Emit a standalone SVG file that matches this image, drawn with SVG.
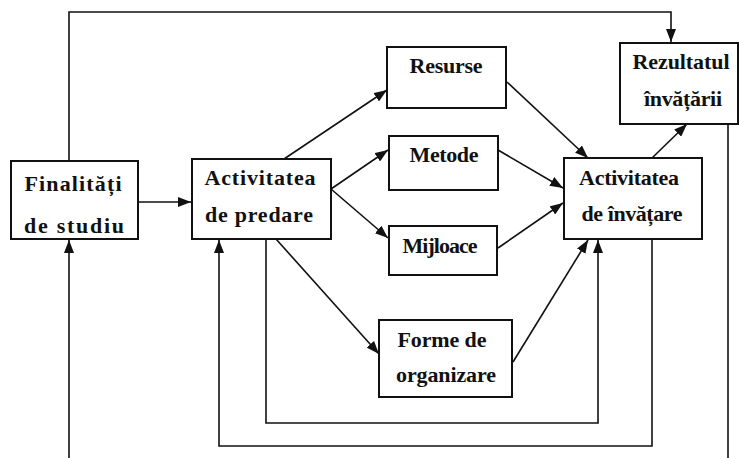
<svg xmlns="http://www.w3.org/2000/svg" width="739" height="458" viewBox="0 0 739 458">
  <defs>
    <marker id="arrow" markerUnits="userSpaceOnUse" markerWidth="13" markerHeight="10" viewBox="0 0 13 10" refX="13" refY="5" orient="auto">
      <path d="M0,0 L13,5 L0,10 Z" fill="#111"/>
    </marker>
    <style>
      .box { fill: #fff; stroke: #111; stroke-width: 2; }
      .lbl { font-family: "Liberation Serif", "Times New Roman", serif; font-weight: bold; font-size: 22px; fill: #111; text-anchor: middle; }
      .edge { fill: none; stroke: #111; stroke-width: 1.6; }
      .arr { marker-end: url(#arrow); }
    </style>
  </defs>
  <rect width="739" height="458" fill="#fff"/>

  <!-- connectors -->
  <g id="connectors">
    <!-- feedback from goals to learning outcome -->
    <path class="edge arr" d="M69,161 V12 H671 V42"/>
    <!-- outcome feeds back to goals (bottom rails) -->
    <path class="edge" d="M728,124 V458"/>
    <path class="edge arr" d="M69,458 V240"/>
    <!-- goals -> teaching -->
    <path class="edge arr" d="M138,202 H191"/>
    <!-- teaching -> means -->
    <path class="edge arr" d="M284,159 L387,90"/>
    <path class="edge arr" d="M331,189 L388,150"/>
    <path class="edge arr" d="M331,189 L388,238"/>
    <path class="edge arr" d="M276,239 L379,354"/>
    <!-- means -> learning -->
    <path class="edge arr" d="M507,82 L588,158"/>
    <path class="edge arr" d="M498,150 L563,188"/>
    <path class="edge arr" d="M498,248 L563,203"/>
    <path class="edge arr" d="M513,362 L588,240"/>
    <!-- learning -> outcome -->
    <path class="edge arr" d="M652,158 L687,124"/>
    <!-- loops between teaching and learning -->
    <path class="edge arr" d="M266,239 V423 H598 V240"/>
    <path class="edge arr" d="M652,239 V446 H219 V240"/>
  </g>

  <g id="finalitati">
    <rect class="box" x="11" y="161" width="127" height="78"/>
    <text class="lbl" x="73" y="191" textLength="97" lengthAdjust="spacing">Finalități</text>
    <text class="lbl" x="74" y="233" textLength="100" lengthAdjust="spacing">de studiu</text>
  </g>

  <g id="predare">
    <rect class="box" x="192" y="159" width="139" height="80"/>
    <text class="lbl" x="260" y="185" textLength="111" lengthAdjust="spacing">Activitatea</text>
    <text class="lbl" x="259" y="222" textLength="108" lengthAdjust="spacing">de predare</text>
  </g>

  <g id="resurse">
    <rect class="box" x="387" y="47" width="119" height="61"/>
    <text class="lbl" x="446" y="73" textLength="73" lengthAdjust="spacing">Resurse</text>
  </g>

  <g id="metode">
    <rect class="box" x="389" y="136" width="109" height="54"/>
    <text class="lbl" x="444" y="162" textLength="69" lengthAdjust="spacing">Metode</text>
  </g>

  <g id="mijloace">
    <rect class="box" x="389" y="226" width="108" height="49"/>
    <text class="lbl" x="440" y="253" textLength="75" lengthAdjust="spacing">Mijloace</text>
  </g>

  <g id="forme">
    <rect class="box" x="379" y="320" width="133" height="77"/>
    <text class="lbl" x="442" y="347" textLength="89" lengthAdjust="spacing">Forme de</text>
    <text class="lbl" x="446" y="382" textLength="100" lengthAdjust="spacing">organizare</text>
  </g>

  <g id="invatare">
    <rect class="box" x="564" y="158" width="138" height="81"/>
    <text class="lbl" x="629" y="185" textLength="100" lengthAdjust="spacing">Activitatea</text>
    <text class="lbl" x="632" y="221" textLength="101" lengthAdjust="spacing">de învățare</text>
  </g>

  <g id="rezultatul">
    <rect class="box" x="620" y="43" width="118" height="81"/>
    <text class="lbl" x="681" y="69" textLength="97" lengthAdjust="spacing">Rezultatul</text>
    <text class="lbl" x="683" y="106" textLength="78" lengthAdjust="spacing">învățării</text>
  </g>
</svg>
